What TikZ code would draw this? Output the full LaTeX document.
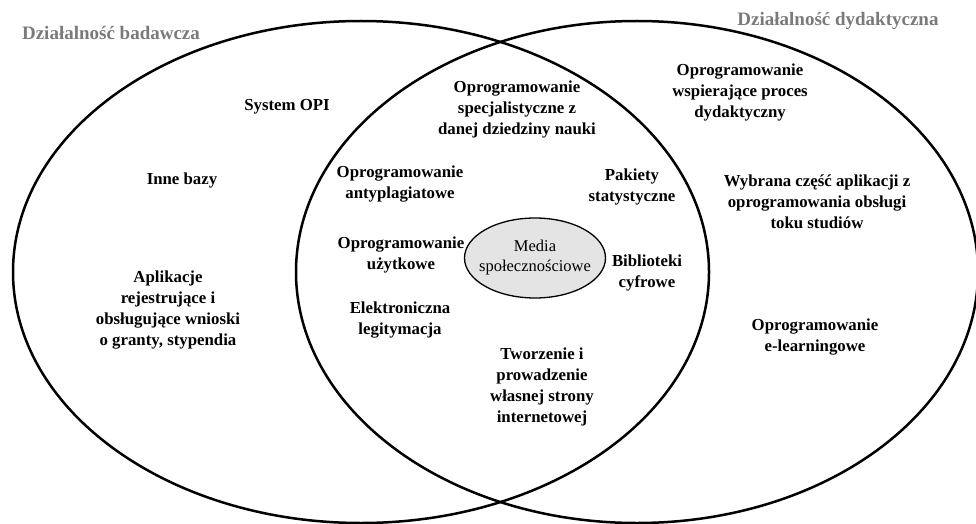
\documentclass[tikz,border=0pt]{standalone}
\usepackage{fontspec}
\setmainfont{Liberation Serif}
\usetikzlibrary{shapes.geometric}
\definecolor{labelgray}{HTML}{7A7A7A}
\definecolor{mediafill}{HTML}{E4E4E4}
\tikzset{
  vennset/.style={draw=black, line width=2.5pt},
  item/.style={align=center, inner sep=0pt, font=\bfseries\fontsize{16.8}{21}\selectfont, text=black},
  setlabel/.style={inner sep=0pt, font=\bfseries\fontsize{19}{22}\selectfont, text=labelgray},
  mediabox/.style={draw=black, line width=1.3pt, fill=mediafill, ellipse, minimum width=141pt, minimum height=80pt, inner xsep=-12pt, inner ysep=0pt, align=center, font=\fontsize{16.5}{20}\selectfont}
}
\begin{document}
\begin{tikzpicture}[x=1pt,y=-1pt]
\useasboundingbox (0,0) rectangle (976,524);
\draw[vennset] (361,272) ellipse [x radius=348pt, y radius=251pt];
\draw[vennset] (637,272) ellipse [x radius=341pt, y radius=251pt];
\node[setlabel] (lb) at (111,33) {Działalność badawcza};
\node[setlabel] (ld) at (838,21) {Działalność dydaktyczna};
\node[item] (opi) at (287,107) {System OPI};
\node[item] (inne) at (182,180) {Inne bazy};
\node[item] (apl) at (168,310) {Aplikacje\\rejestrujące i\\obsługujące wnioski\\o granty, stypendia};
\node[item] (spec) at (517,109) {Oprogramowanie\\specjalistyczne z\\danej dziedziny nauki};
\node[item] (anty) at (400,184) {Oprogramowanie\\antyplagiatowe};
\node[item] (pak) at (632,187) {Pakiety\\statystyczne};
\node[item] (uzyt) at (401,255) {Oprogramowanie\\użytkowe};
\node[mediabox] (media) at (535,258) {Media\\społecznościowe};
\node[item] (bib) at (647,273) {Biblioteki\\cyfrowe};
\node[item] (leg) at (400,320) {Elektroniczna\\legitymacja};
\node[item] (www) at (542,387) {Tworzenie i\\prowadzenie\\własnej strony\\internetowej};
\node[item] (wsp) at (740,92) {Oprogramowanie\\wspierające proces\\dydaktyczny};
\node[item] (tok) at (817,202) {Wybrana część aplikacji z\\oprogramowania obsługi\\toku studiów};
\node[item] (elearn) at (815,337) {Oprogramowanie\\e-learningowe};
\end{tikzpicture}
\end{document}
